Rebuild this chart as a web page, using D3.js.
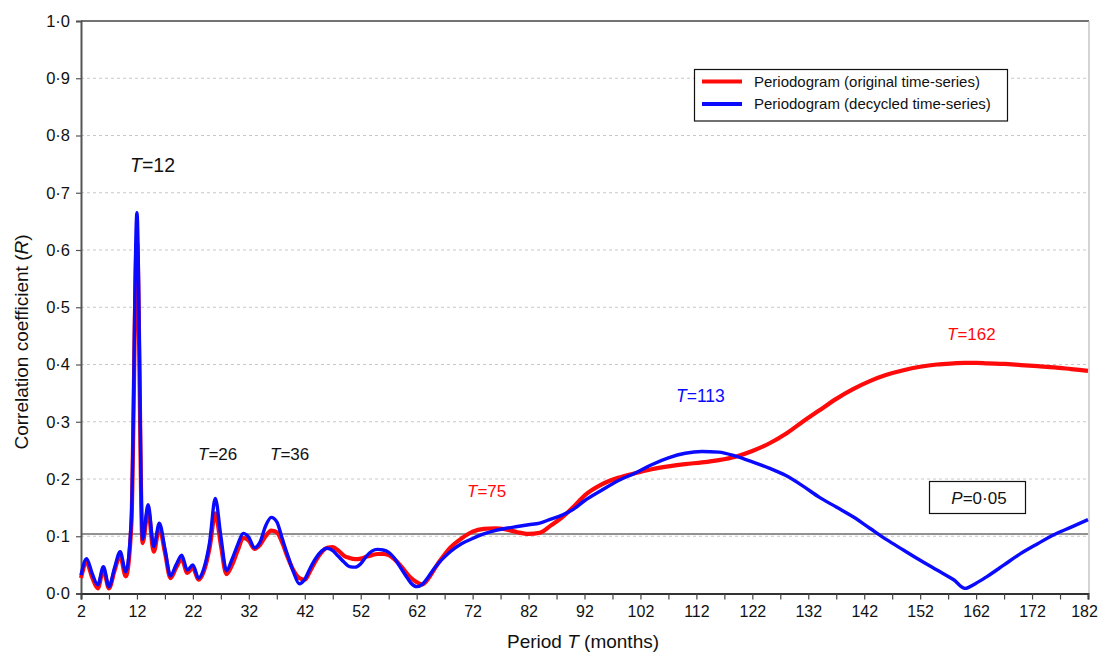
<!DOCTYPE html>
<html>
<head>
<meta charset="utf-8">
<script src="https://cdn.jsdelivr.net/npm/d3@7/dist/d3.min.js"></script>
<style>
  html, body { margin: 0; padding: 0; background: #fff; }
  svg { display: block; font-family: "Liberation Sans", Arial, sans-serif; }
</style>
</head>
<body>
<svg id="chart" width="1099" height="655"></svg>
<script>
// Period (months) at which the periodograms are sampled
const periods = [
  2, 3, 4, 5, 6, 7, 8, 9, 10, 11, 12, 13, 14, 15, 16, 17, 18, 19, 20, 21,
  22, 23, 24, 25, 26, 27, 28, 29, 30, 31, 32, 33, 34, 35, 36, 37, 38, 39, 40, 41,
  42, 43, 44, 45, 46, 47, 48, 49, 50, 51, 52, 53, 54, 55, 56, 57, 58, 59, 60, 61,
  62, 63, 64, 65, 66, 67, 68,
  70, 72, 74, 76, 78, 80, 82, 84, 86, 88, 90, 92, 95, 98, 101, 104, 107, 110, 113,
  116, 119, 122, 125, 128, 131, 134, 137, 140, 143, 146, 149, 152, 155, 158, 160,
  162, 164, 167, 170, 173, 176, 179, 182
];

// Correlation coefficient R, original time-series
const originalR = [
  .027, .054, .028, .009, .041, .009, .040, .066, .030, .120, .615, .088, .145, .073, .115, .072, .027, .045, .060, .036,
  .045, .024, .040, .080, .140, .085, .034, .050, .075, .097, .092, .078, .085, .100, .110, .107, .088, .062, .040, .027,
  .024, .040, .058, .072, .080, .081, .075, .066, .062, .060, .061, .064, .067, .069, .069, .067, .060, .050, .038, .027,
  .020, .016, .025, .040, .055, .068, .080,
  .096, .108, .113, .114, .112, .107, .104, .106, .119, .133, .151, .171, .190, .202, .210, .217, .222, .226, .229,
  .233, .239, .249, .262, .279, .300, .320, .340, .357, .371, .382, .390, .396, .400, .402, .403,
  .403, .402, .401, .399, .397, .395, .392, .389
];

// Correlation coefficient R, decycled time-series
const decycledR = [
  .032, .061, .035, .015, .047, .012, .045, .073, .038, .130, .665, .095, .155, .082, .123, .078, .031, .050, .067, .041,
  .050, .027, .045, .090, .166, .100, .040, .060, .085, .105, .098, .080, .090, .118, .133, .125, .095, .065, .037, .017,
  .025, .045, .062, .074, .079, .075, .065, .055, .047, .046, .052, .065, .074, .077, .076, .072, .062, .047, .032, .018,
  .012, .016, .028, .042, .054, .064, .073,
  .087, .096, .104, .110, .114, .117, .120, .123, .130, .137, .147, .162, .180, .197, .210, .225, .237, .245, .248,
  .247, .240, .230, .219, .206, .188, .168, .151, .134, .114, .094, .076, .058, .041, .024, .009,
  .018, .030, .050, .070, .087, .103, .116, .129
];

// Significance threshold (P = 0·05)
const thresholdR = 0.104;

const yTicks = [0, 0.1, 0.2, 0.3, 0.4, 0.5, 0.6, 0.7, 0.8, 0.9, 1.0];
const xTickMarks = d3.range(2, 183, 5);
const xTickLabels = [2, 12, 22, 32, 42, 52, 62, 72, 82, 92, 102, 112, 122, 132, 142, 152, 162, 172, 182];

const seriesNames = ["Periodogram (original time-series)", "Periodogram (decycled time-series)"];
const seriesColors = ["#ff0a0a", "#0a0aff"];

const svg = d3.select("#chart");
const plotLeft = 81, plotRight = 1088, plotTop = 21, plotBottom = 593.5;

const x = d3.scaleLinear().domain([2, 182]).range([plotLeft, plotRight]);
const y = d3.scaleLinear().domain([0, 1]).range([plotBottom, plotTop]);

const fmt = v => v.toFixed(1).replace(".", "\u00B7");

// Horizontal dashed grid
svg.append("g").selectAll("line")
  .data(yTicks.filter(v => v > 0 && v < 1))
  .join("line")
  .attr("x1", plotLeft).attr("x2", plotRight)
  .attr("y1", d => y(d)).attr("y2", d => y(d))
  .attr("stroke", "#c8c8c8").attr("stroke-width", 1)
  .attr("stroke-dasharray", "3,3");

// Top and right frame
svg.append("line").attr("x1", plotLeft).attr("x2", plotRight + 1).attr("y1", plotTop).attr("y2", plotTop)
  .attr("stroke", "#444").attr("stroke-width", 1.6);
svg.append("line").attr("x1", plotRight + 1).attr("x2", plotRight + 1).attr("y1", plotTop).attr("y2", plotBottom)
  .attr("stroke", "#b8b8b8").attr("stroke-width", 1.2);

// Threshold line
svg.append("line")
  .attr("x1", plotLeft).attr("x2", plotRight)
  .attr("y1", y(thresholdR)).attr("y2", y(thresholdR))
  .attr("stroke", "#6e6e6e").attr("stroke-width", 1.6);

// Y axis
const yAxis = svg.append("g")
  .attr("transform", `translate(${plotLeft},0)`)
  .call(d3.axisLeft(y).tickValues(yTicks).tickFormat(fmt).tickSize(5).tickPadding(6));
yAxis.select(".domain").attr("stroke", "#555").attr("stroke-width", 2);
yAxis.selectAll(".tick line").attr("stroke", "#555").attr("stroke-width", 1.2);
yAxis.selectAll(".tick text").attr("font-size", "16.5px").attr("fill", "#111")
  .attr("font-family", "Liberation Sans, Arial, sans-serif");

// X axis
const xAxis = svg.append("g")
  .attr("transform", `translate(0,${plotBottom})`)
  .call(d3.axisBottom(x).tickValues(xTickMarks)
    .tickFormat(d => xTickLabels.includes(d) ? String(d) : "")
    .tickSize(6).tickPadding(6));
xAxis.select(".domain").attr("stroke", "#333").attr("stroke-width", 2);
xAxis.selectAll(".tick line").attr("stroke", "#444").attr("stroke-width", 1.2);
xAxis.selectAll(".tick text").attr("font-size", "16px").attr("fill", "#111")
  .attr("font-family", "Liberation Sans, Arial, sans-serif");
// keep the last label inside the page edge
xAxis.selectAll(".tick text").filter(d => d === 182).attr("dx", "-4");

// Series lines
const line = d3.line()
  .x((d, i) => x(periods[i]))
  .y(d => y(d))
  .curve(d3.curveMonotoneX);

svg.append("path").datum(originalR)
  .attr("d", line).attr("fill", "none")
  .attr("stroke", seriesColors[0]).attr("stroke-width", 4.2)
  .attr("stroke-linejoin", "round");
svg.append("path").datum(decycledR)
  .attr("d", line).attr("fill", "none")
  .attr("stroke", seriesColors[1]).attr("stroke-width", 3.4)
  .attr("stroke-linejoin", "round");

// Axis titles
const yTitle = svg.append("text")
  .attr("transform", "translate(28,342) rotate(-90)")
  .attr("text-anchor", "middle").attr("font-size", "19px").attr("fill", "#111");
yTitle.append("tspan").text("Correlation coefficient (");
yTitle.append("tspan").attr("font-style", "italic").text("R");
yTitle.append("tspan").text(")");

const xTitle = svg.append("text")
  .attr("x", 583).attr("y", 648)
  .attr("text-anchor", "middle").attr("font-size", "19px").attr("fill", "#111");
xTitle.append("tspan").text("Period ");
xTitle.append("tspan").attr("font-style", "italic").text("T");
xTitle.append("tspan").text(" (months)");

// Peak annotations
const notes = [
  { t: 12, px: 130, py: 172, size: 19.5, color: "#111" },
  { t: 26, px: 198, py: 460, size: 17, color: "#111" },
  { t: 36, px: 270, py: 460, size: 17, color: "#111" },
  { t: 75, px: 467, py: 497, size: 17, color: "#ff0a0a" },
  { t: 113, px: 676, py: 402, size: 17.5, color: "#0a0aff" },
  { t: 162, px: 947, py: 340, size: 17, color: "#ff0a0a" }
];
notes.forEach(n => {
  const t = svg.append("text").attr("x", n.px).attr("y", n.py)
    .attr("font-size", n.size + "px").attr("fill", n.color);
  t.append("tspan").attr("font-style", "italic").text("T");
  t.append("tspan").text("=" + n.t);
});

// Significance label box
svg.append("rect").attr("x", 929.5).attr("y", 481.5).attr("width", 96).attr("height", 32)
  .attr("fill", "#fff").attr("stroke", "#111").attr("stroke-width", 1.2);
const pl = svg.append("text").attr("x", 979).attr("y", 503.5)
  .attr("text-anchor", "middle").attr("font-size", "17px").attr("fill", "#111");
pl.append("tspan").attr("font-style", "italic").text("P");
pl.append("tspan").text("=0\u00B705");

// Legend
const lg = svg.append("g");
lg.append("rect").attr("x", 694.5).attr("y", 69.5).attr("width", 313).attr("height", 51.5)
  .attr("fill", "#fff").attr("stroke", "#111").attr("stroke-width", 1.2);
seriesNames.forEach((name, i) => {
  const cy = 81.5 + i * 22.5;
  lg.append("line").attr("x1", 702).attr("x2", 742).attr("y1", cy).attr("y2", cy)
    .attr("stroke", seriesColors[i]).attr("stroke-width", 4);
  lg.append("text").attr("x", 754).attr("y", cy).attr("dy", "0.35em")
    .attr("font-size", "15px").attr("fill", "#111").text(name);
});
</script>
</body>
</html>
